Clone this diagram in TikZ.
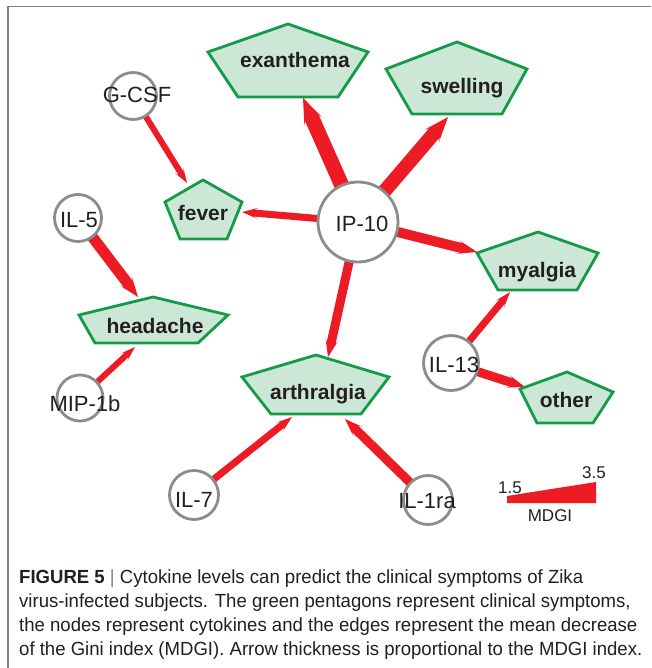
\documentclass[tikz,border=0pt]{standalone}
\usepackage{fontspec}
\setmainfont{Liberation Sans}
\newfontfamily\capfont[FakeStretch=0.977]{Liberation Sans}
\usetikzlibrary{calc,backgrounds}
\definecolor{edgered}{HTML}{ED1C24}
\definecolor{pfill}{HTML}{CDE7D6}
\definecolor{pdraw}{HTML}{159A48}
\definecolor{cgray}{HTML}{8C8C8C}
\definecolor{txt}{HTML}{231F20}
\definecolor{framegray}{HTML}{808080}

% tapered MDGI arrow: source node, tip coordinate, shaft width, head width, head length
\newcommand\mdgi[5]{%
  \pgfmathsetmacro\mdJ{#5-4}%
  \pgfmathsetmacro\mdw{#3/2}%
  \pgfmathsetmacro\mdh{#4/2}%
  \coordinate (mS) at (#1.center);
  \coordinate (mB) at ($(#2)!#5pt!(mS)$);
  \coordinate (mJ) at ($(#2)!\mdJ pt!(mS)$);
  \fill[edgered] ($(mS)!\mdw pt!90:(#2)$) -- ($(mJ)!\mdw pt!90:(#2)$)
    -- ($(mB)!\mdh pt!90:(#2)$) -- (#2) -- ($(mB)!\mdh pt!-90:(#2)$)
    -- ($(mJ)!\mdw pt!-90:(#2)$) -- ($(mS)!\mdw pt!-90:(#2)$) -- cycle;}

\begin{document}
\begin{tikzpicture}[x=1pt,y=-1pt,
  cyto/.style={circle,draw=cgray,line width=2.8pt,fill=white,inner sep=0pt,minimum size=#1},
  ctext/.style={font=\fontsize{22}{24}\selectfont,text=txt,anchor=base,inner sep=0pt},
  pent/.style={draw=pdraw,fill=pfill,line width=2.8pt,line join=miter},
  ptext/.style={font=\fontsize{21}{24}\selectfont\bfseries,text=txt,anchor=base,inner sep=0pt},
  legtext/.style={font=\fontsize{17}{19}\selectfont,text=txt,anchor=base,inner sep=0pt},
  captext/.style={font=\capfont\fontsize{19}{22}\selectfont,text=txt,anchor=base west,inner sep=0pt},
]
\useasboundingbox (0,0) rectangle (651,668);
\draw[framegray,line width=1.5pt] (651,6.5) -- (8,6.5) -- (8,668);

% symptom pentagons
\draw[pent] (288,24) -- (368,52) -- (338,97) -- (238,97) -- (208,52) -- cycle;
\node[ptext] (exan) at (295,68) {exanthema};
\draw[pent] (457,42) -- (527,69) -- (502,114) -- (412,114) -- (386,69) -- cycle;
\node[ptext] (swel) at (462,94) {swelling};
\draw[pent] (203,180) -- (242,202) -- (227,239) -- (180,239) -- (165,202) -- cycle;
\node[ptext] (fever) at (203,220) {fever};
\draw[pent] (538,232) -- (598,253) -- (577,290) -- (498,290) -- (477,253) -- cycle;
\node[ptext] (myal) at (537,277) {myalgia};
\draw[pent] (567,372) -- (613,392) -- (593,423) -- (537,423) -- (520,389) -- cycle;
\node[ptext] (other) at (566,407) {other};
\draw[pent] (316,355) -- (389,377) -- (361,414) -- (271,414) -- (242,377) -- cycle;
\node[ptext] (arth) at (318,399) {arthralgia};
\draw[pent] (153,297) -- (228,315) -- (198,343) -- (95,343) -- (79,315) -- cycle;
\node[ptext] (head) at (155,333) {headache};

% cytokine circles
\node[cyto=80pt] (ip10) at (358,222) {};
\node[ctext] at (362,231) {IP-10};
\node[cyto=47pt] (gcsf) at (133,96) {};
\node[ctext] at (137,103) {G-CSF};
\node[cyto=47pt] (il5) at (78,218) {};
\node[ctext] at (79,227) {IL-5};
\node[cyto=46pt] (mip) at (80,398) {};
\node[ctext] at (85,411) {MIP-1b};
\node[cyto=55pt] (il13) at (451,363) {};
\node[ctext] at (454,372) {IL-13};
\node[cyto=49pt] (il7) at (194,495) {};
\node[ctext] at (194,507) {IL-7};
\node[cyto=49pt] (il1ra) at (428,500) {};
\node[ctext] at (427,508) {IL-1ra};

% arrow tips on the pentagons
\coordinate (t1) at (303,98);
\coordinate (t2) at (448,117);
\coordinate (t3) at (242,212);
\coordinate (t4) at (477,252);
\coordinate (t5) at (328,357);
\coordinate (t6) at (187,183);
\coordinate (t7) at (138,297);
\coordinate (t8) at (135,347);
\coordinate (t9) at (510,292);
\coordinate (t10) at (525,387);
\coordinate (t11) at (292,417);
\coordinate (t12) at (345,419);

\begin{pgfonlayer}{background}
\fill[white] (0,0) rectangle (651,668);
\mdgi{ip10}{t1}{15}{20}{26}
\mdgi{ip10}{t2}{14}{19}{25}
\mdgi{ip10}{t3}{7}{11}{16}
\mdgi{ip10}{t4}{10}{14}{20}
\mdgi{ip10}{t5}{9}{13}{18}
\mdgi{gcsf}{t6}{6}{10}{15}
\mdgi{il5}{t7}{11}{15}{20}
\mdgi{mip}{t8}{6}{10}{15}
\mdgi{il13}{t9}{7}{11}{16}
\mdgi{il13}{t10}{9}{13}{18}
\mdgi{il7}{t11}{7}{11}{16}
\mdgi{il1ra}{t12}{9}{13}{18}
\end{pgfonlayer}

% legend
\fill[edgered] (507,503) -- (507,496) -- (596,482) -- (596,503) -- cycle;
\node[legtext] (l15) at (510,493) {1.5};
\node[legtext] (l35) at (594,478) {3.5};
\node[legtext] (lmd) at (550,521) {MDGI};

% caption
\node[captext] (c1) at (19,583) {\textbf{FIGURE 5} {\color{framegray}|} Cytokine levels can predict the clinical symptoms of Zika};
\node[captext] (c2) at (19,607) {virus-infected subjects. The green pentagons represent clinical symptoms,};
\node[captext] (c3) at (19,631) {the nodes represent cytokines and the edges represent the mean decrease};
\node[captext] (c4) at (19,655) {of the Gini index (MDGI). Arrow thickness is proportional to the MDGI index.};
\end{tikzpicture}
\end{document}
